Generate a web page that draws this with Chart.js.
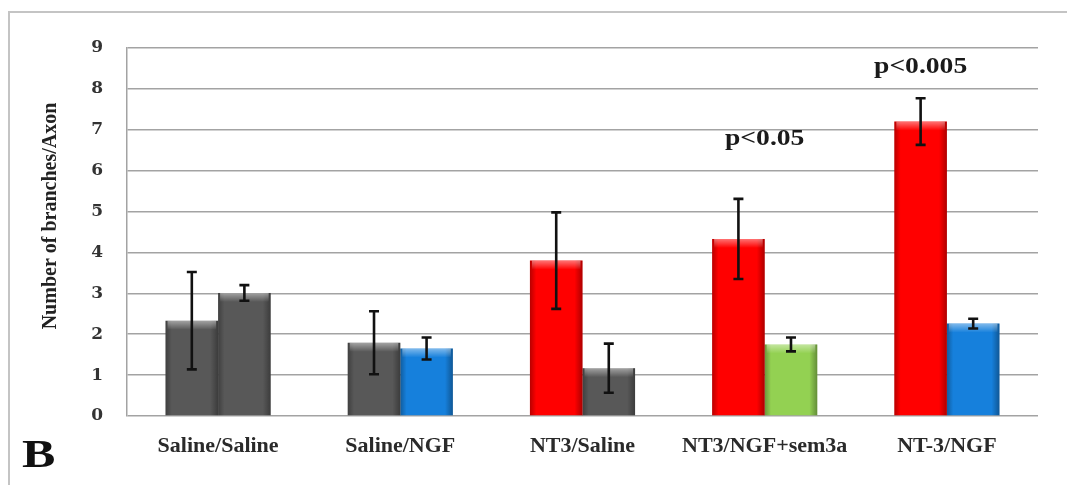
<!DOCTYPE html>
<html>
<head>
<meta charset="utf-8">
<script src="https://cdn.jsdelivr.net/npm/chart.js@4.4.1/dist/chart.umd.min.js"></script>
<style>
  html, body { margin: 0; padding: 0; background: #fff; }
  #wrap { position: relative; width: 1067px; height: 485px; overflow: hidden; }
  #frame { position: absolute; left: 8px; top: 11px; width: 1200px; height: 600px;
           border-left: 2px solid #c4c4c4; border-top: 2px solid #c4c4c4; }
  #chart { position: absolute; left: 0; top: 0; }
  #panel { position: absolute; left: 22px; top: 434px; font: bold 40px "Liberation Serif", "Times New Roman", serif;
           color: #111; line-height: 40px; transform: scaleX(1.25); transform-origin: left top; }
</style>
</head>
<body>
<div id="wrap">
  <div id="frame"></div>
  <canvas id="chart" width="1067" height="485"></canvas>
  <div id="panel">B</div>
</div>
<script>
// Treatment groups on the x axis
const categories = ['Saline/Saline', 'Saline/NGF', 'NT3/Saline', 'NT3/NGF+sem3a', 'NT-3/NGF'];

// First bar of each group: mean branches per axon and its error
const firstValues = [2.33, 1.79, 3.80, 4.33, 7.20];
const firstErrors = [1.19, 0.77, 1.18, 0.98, 0.57];

// Second bar of each group
const secondValues = [3.01, 1.65, 1.17, 1.75, 2.26];
const secondErrors = [0.19, 0.27, 0.60, 0.17, 0.12];

// Y axis tick range
const yTicks = [0, 1, 2, 3, 4, 5, 6, 7, 8, 9];

// Significance labels
const pLabels = ['p<0.05', 'p<0.005'];
const pCategories = ['NT3/NGF+sem3a', 'NT-3/NGF'];
const pLevels = [6.77, 8.55];

const GRAY = '#585858', RED = '#ff0000', BLUE = '#1680dc', GREEN = '#93d152';
const firstColors = [GRAY, GRAY, RED, RED, RED];
const secondColors = [GRAY, BLUE, GRAY, GREEN, BLUE];

// Cylinder-like shading on each bar plus the error whiskers
const barDecor = {
  id: 'barDecor',
  afterDatasetsDraw(chart) {
    const ctx = chart.ctx;
    const yScale = chart.scales.y;
    chart.data.datasets.forEach((ds, di) => {
      const meta = chart.getDatasetMeta(di);
      meta.data.forEach((bar) => {
        const { x, y, base, width } = bar.getProps(['x', 'y', 'base', 'width'], true);
        const l = x - width / 2, r = x + width / 2;
        ctx.save();
        const hg = ctx.createLinearGradient(l, 0, r, 0);
        hg.addColorStop(0, 'rgba(0,0,0,0.28)');
        hg.addColorStop(0.12, 'rgba(0,0,0,0.0)');
        hg.addColorStop(0.85, 'rgba(0,0,0,0.0)');
        hg.addColorStop(1, 'rgba(0,0,0,0.32)');
        ctx.fillStyle = hg;
        ctx.fillRect(l, y, width, base - y);
        const vg = ctx.createLinearGradient(0, y, 0, y + 9);
        vg.addColorStop(0, 'rgba(255,255,255,0.45)');
        vg.addColorStop(1, 'rgba(255,255,255,0)');
        ctx.fillStyle = vg;
        ctx.fillRect(l + 2, y, width - 4, 9);
        ctx.restore();
      });
    });
    chart.data.datasets.forEach((ds, di) => {
      const meta = chart.getDatasetMeta(di);
      meta.data.forEach((bar, i) => {
        const v = ds.data[i], e = ds.errors[i];
        const x = bar.getProps(['x'], true).x;
        const yHi = yScale.getPixelForValue(v + e);
        const yLo = yScale.getPixelForValue(v - e);
        ctx.save();
        ctx.strokeStyle = '#111';
        ctx.lineWidth = 2.6;
        ctx.beginPath();
        ctx.moveTo(x, yHi); ctx.lineTo(x, yLo);
        ctx.moveTo(x - 5, yHi); ctx.lineTo(x + 5, yHi);
        ctx.moveTo(x - 5, yLo); ctx.lineTo(x + 5, yLo);
        ctx.stroke();
        ctx.restore();
      });
    });
  }
};

// Axis title and significance labels
const labels = {
  id: 'labels',
  afterDraw(chart) {
    const ctx = chart.ctx;
    const xs = chart.scales.x, ys = chart.scales.y;
    ctx.save();
    ctx.fillStyle = '#1a1a1a';
    ctx.font = 'bold 24px "Liberation Serif", "Times New Roman", serif';
    ctx.textAlign = 'center';
    ctx.textBaseline = 'middle';
    pLabels.forEach((t, i) => {
      const ci = categories.indexOf(pCategories[i]);
      let x = xs.getPixelForValue(ci);
      if (i === 1) x = chart.getDatasetMeta(0).data[ci].x;
      ctx.save();
      ctx.translate(x, ys.getPixelForValue(pLevels[i]));
      ctx.scale(1.15, 1);
      ctx.fillText(t, 0, 0);
      ctx.restore();
    });
    ctx.translate(51, 216);
    ctx.rotate(-Math.PI / 2);
    ctx.font = 'bold 20px "Liberation Serif", "Times New Roman", serif';
    ctx.fillStyle = '#222';
    ctx.fillText('Number of branches/Axon', 0, 0);
    ctx.restore();
  }
};

new Chart(document.getElementById('chart'), {
  type: 'bar',
  data: {
    labels: categories,
    datasets: [
      { data: firstValues, errors: firstErrors, backgroundColor: firstColors, borderWidth: 0 },
      { data: secondValues, errors: secondErrors, backgroundColor: secondColors, borderWidth: 0 }
    ]
  },
  options: {
    responsive: false,
    animation: false,
    devicePixelRatio: 1,
    layout: { padding: { left: 0, top: 48, right: 29, bottom: 0 } },
    datasets: { bar: { barPercentage: 1, categoryPercentage: 0.577 } },
    plugins: { legend: { display: false }, tooltip: { enabled: false } },
    scales: {
      x: {
        grid: { display: false },
        border: { display: false },
        ticks: {
          color: '#2a2a2a', padding: 9, maxRotation: 0,
          font: { family: '"Liberation Serif", "Times New Roman", serif', size: 22, weight: 'bold' }
        },
        afterFit(scale) { scale.height = 69; }
      },
      y: {
        min: yTicks[0], max: yTicks[yTicks.length - 1],
        afterBuildTicks(scale) { scale.ticks = yTicks.map(v => ({ value: v })); },
        grid: { color: '#a3a3a3', lineWidth: 1.5, drawTicks: false },
        border: { display: true, color: '#a3a3a3', width: 1.5 },
        ticks: {
          color: '#333', padding: 24,
          font: { family: '"DejaVu Serif", serif', size: 17, weight: 'bold' }
        },
        afterFit(scale) { scale.width = 127; }
      }
    }
  },
  plugins: [barDecor, labels]
});
</script>
</body>
</html>
